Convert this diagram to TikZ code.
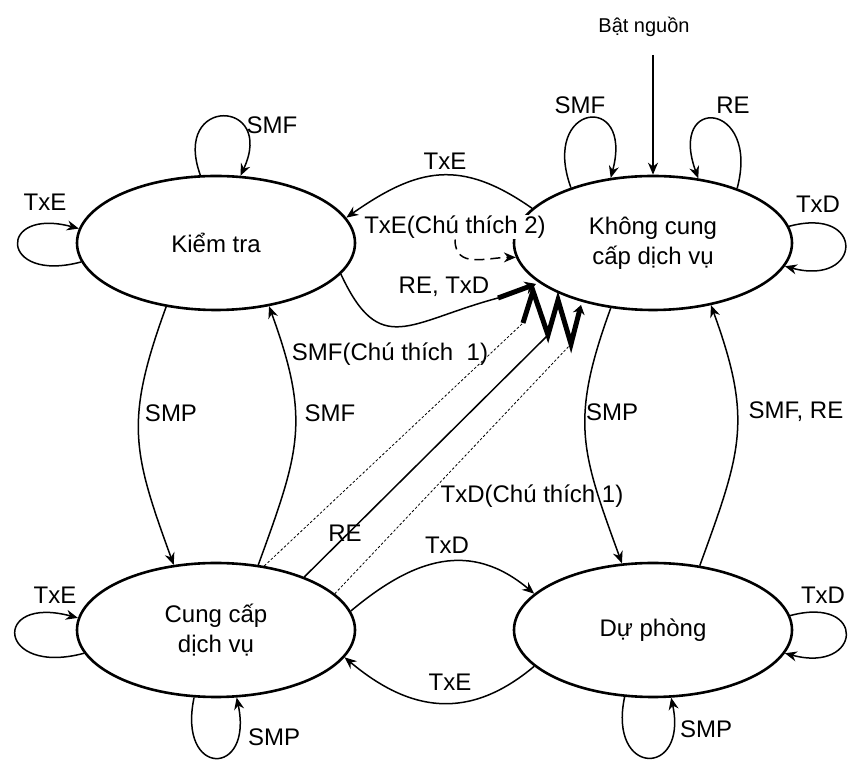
\documentclass[tikz,border=0pt]{standalone}
\usepackage{fontspec}
\setmainfont{Liberation Sans}
\usetikzlibrary{shapes.geometric,arrows.meta}

\begin{document}
\begin{tikzpicture}[x=1pt,y=1pt,
    font=\fontsize{24}{30}\selectfont,
    state/.style={draw, ellipse, line width=2.6pt, minimum width=278pt,
      minimum height=134pt, inner sep=0pt, align=center},
    lbl/.style={inner sep=1pt},
    tr/.style={line width=1.5pt, -{Stealth[length=12pt,width=10pt]}},
    dot/.style={line width=0.8pt, dash pattern=on 2.5pt off 2pt},
    bolt/.style={line width=5pt, line join=miter}
  ]
  \useasboundingbox (0,0) rectangle (848,762);

  \node[state] (kt)  at (216,519) {Kiểm tra};
  \node[state] (kcc) at (653,519) {Không cung\\cấp dịch vụ};
  \node[state] (cc)  at (216,132) {Cung cấp\\dịch vụ};
  \node[state] (dp)  at (653,132) {Dự phòng};

  \node[lbl, font=\fontsize{20}{24}\selectfont] (bn) at (644,735) {Bật nguồn};
  \coordinate (src) at (653,707);
  \draw[tr] (src) -- (kcc.north);

  % Kiem tra
  \node[lbl] (lSMFkt) at (272,637) {SMF};
  \draw[tr] (kt.103) to[out=110,in=65,distance=85pt] (kt.70);
  \node[lbl] (lTxEkt) at (45,560) {TxE};
  \draw[tr] (kt.188) to[out=195,in=165,distance=85pt] (kt.174);

  % Khong cung cap dich vu
  \node[lbl] (lSMFkcc) at (580,657) {SMF};
  \draw[tr] (kcc.146) to[out=110,in=75,distance=90pt] (kcc.123);
  \node[lbl] (lREkcc) at (733,657) {RE};
  \draw[tr] (kcc.33) to[out=75,in=110,distance=90pt] (kcc.55);
  \node[lbl] (lTxDkcc) at (818,558) {TxD};
  \draw[tr] (kcc.7) to[out=15,in=-15,distance=80pt] (kcc.-10);

  % Cung cap dich vu
  \node[lbl] (lTxEcc) at (55,167) {TxE};
  \draw[tr] (cc.190) to[out=195,in=165,distance=90pt] (cc.175);
  \node[lbl] (lSMPcc) at (274,25) {SMP};
  \draw[tr] (cc.252) to[out=258,in=282,distance=82pt] (cc.287);

  % Du phong
  \node[lbl] (lSMPdp) at (706,33) {SMP};
  \draw[tr] (dp.247) to[out=258,in=282,distance=82pt] (dp.285);
  \node[lbl] (lTxDdp) at (823,167) {TxD};
  \draw[tr] (dp.6) to[out=15,in=-15,distance=80pt] (dp.-10);

  % kt <-> kcc
  \node[lbl] (lTxEtop) at (445,601) {TxE};
  \draw[tr] (kcc.164) to[out=145,in=35,looseness=1.2] (kt.11);
  \node[lbl, fill=white] (lTxE2) at (455,535) {TxE(Chú thích 2)};
  \draw[tr, dash pattern=on 10pt off 6pt] (lTxE2.south) to[out=-90,in=180,looseness=1.2] (kcc.186);
  \node[lbl] (lRETxD) at (444,475) {RE, TxD};
  \coordinate (b0) at (498,464);
  \coordinate (b1) at (536,478);
  \draw[tr, -] (kt.-14) to[out=-65,in=195,looseness=1.5] (b0);
  \draw[bolt, -{Stealth[length=11pt,width=13pt]}] (b0) -- (b1);

  % kt <-> cc
  \node[lbl] (lSMPl) at (171,349) {SMP};
  \draw[tr] (kt.232) to[out=250,in=110,looseness=1.2] (cc.123);
  \node[lbl] (lSMFr) at (330,349) {SMF};
  \draw[tr] (cc.57) to[out=70,in=-70,looseness=1.2] (kt.-50);

  % cc -> kcc
  \coordinate (z1) at (523,439);
  \coordinate (z2) at (533,471);
  \coordinate (z3) at (548,427);
  \coordinate (z4) at (558,462);
  \coordinate (z5) at (571,418);
  \coordinate (z6) at (581,457);
  \node[lbl] (lSMFc1) at (390,408) {SMF(Chú thích~~1)};
  \draw[dot] (cc.53) -- (z1);
  \node[lbl] (lRE) at (345,229) {RE};
  \draw[line width=1.5pt] (cc.31) -- (z3);
  \node[lbl] (lTxDc1) at (532,266) {TxD(Chú thích 1)};
  \draw[dot] (cc.17) -- (z5);
  \draw[bolt, -{Stealth[length=9pt,width=12pt]}] (z1) -- (z2) -- (z3) -- (z4) -- (z5) -- (z6);

  % cc <-> dp
  \node[lbl] (lTxDcd) at (447,217) {TxD};
  \draw[tr] (cc.8) to[out=40,in=140,looseness=1.15] (dp.163);
  \node[lbl] (lTxEcd) at (450,80) {TxE};
  \draw[tr] (dp.197) to[out=-140,in=-40,looseness=1.15] (cc.-12);

  % kcc <-> dp
  \node[lbl] (lSMPr) at (612,350) {SMP};
  \draw[tr] (kcc.237) to[out=250,in=110,looseness=1.2] (dp.115);
  \node[lbl] (lSMFRE) at (796,350) {SMF, RE};
  \draw[tr] (dp.54) to[out=70,in=-70,looseness=1.2] (kcc.-47);
\end{tikzpicture}
\end{document}
